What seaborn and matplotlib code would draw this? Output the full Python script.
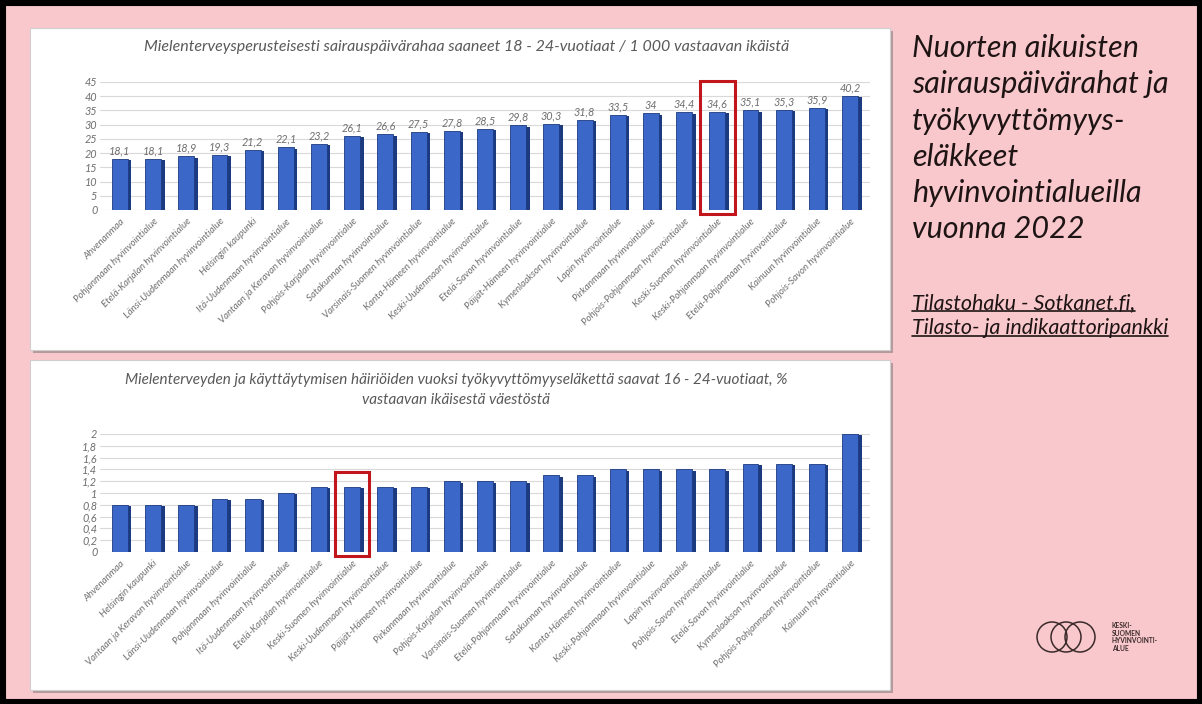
import numpy as np
import pandas as pd
import matplotlib
matplotlib.use("Agg")
import matplotlib.pyplot as plt
import matplotlib.patheffects as pe
from matplotlib.patches import Rectangle, Circle
from matplotlib.lines import Line2D
import seaborn as sns

# ----------------------------------------------------------------------
# Data
# ----------------------------------------------------------------------
top_regions = [
    "Ahvenanmaa", "Pohjanmaan hyvinvointialue", "Etelä-Karjalan hyvinvointialue",
    "Länsi-Uudenmaan hyvinvointialue", "Helsingin kaupunki",
    "Itä-Uudenmaan hyvinvointialue", "Vantaan ja Keravan hyvinvointialue",
    "Pohjois-Karjalan hyvinvointialue", "Satakunnan hyvinvointialue",
    "Varsinais-Suomen hyvinvointialue", "Kanta-Hämeen hyvinvointialue",
    "Keski-Uudenmaan hyvinvointialue", "Etelä-Savon hyvinvointialue",
    "Päijät-Hämeen hyvinvointialue", "Kymenlaakson hyvinvointialue",
    "Lapin hyvinvointialue", "Pirkanmaan hyvinvointialue",
    "Pohjois-Pohjanmaan hyvinvointialue", "Keski-Suomen hyvinvointialue",
    "Keski-Pohjanmaan hyvinvointialue", "Etelä-Pohjanmaan hyvinvointialue",
    "Kainuun hyvinvointialue", "Pohjois-Savon hyvinvointialue",
]
top_values = [18.1, 18.1, 18.9, 19.3, 21.2, 22.1, 23.2, 26.1, 26.6, 27.5, 27.8,
              28.5, 29.8, 30.3, 31.8, 33.5, 34.0, 34.4, 34.6, 35.1, 35.3, 35.9, 40.2]
top_title = "Mielenterveysperusteisesti sairauspäivärahaa saaneet 18 - 24-vuotiaat / 1 000 vastaavan ikäistä"

bottom_regions = [
    "Ahvenanmaa", "Helsingin kaupunki", "Vantaan ja Keravan hyvinvointialue",
    "Länsi-Uudenmaan hyvinvointialue", "Pohjanmaan hyvinvointialue",
    "Itä-Uudenmaan hyvinvointialue", "Etelä-Karjalan hyvinvointialue",
    "Keski-Suomen hyvinvointialue", "Keski-Uudenmaan hyvinvointialue",
    "Päijät-Hämeen hyvinvointialue", "Pirkanmaan hyvinvointialue",
    "Pohjois-Karjalan hyvinvointialue", "Varsinais-Suomen hyvinvointialue",
    "Etelä-Pohjanmaan hyvinvointialue", "Satakunnan hyvinvointialue",
    "Kanta-Hämeen hyvinvointialue", "Keski-Pohjanmaan hyvinvointialue",
    "Lapin hyvinvointialue", "Pohjois-Savon hyvinvointialue",
    "Etelä-Savon hyvinvointialue", "Kymenlaakson hyvinvointialue",
    "Pohjois-Pohjanmaan hyvinvointialue", "Kainuun hyvinvointialue",
]
bottom_values = [0.8, 0.8, 0.8, 0.9, 0.9, 1.0, 1.1, 1.1, 1.1, 1.1, 1.2, 1.2,
                 1.2, 1.3, 1.3, 1.4, 1.4, 1.4, 1.4, 1.5, 1.5, 1.5, 2.0]
bottom_title = ("Mielenterveyden ja käyttäytymisen häiriöiden vuoksi työkyvyttömyyseläkettä saavat 16 - 24-vuotiaat, %\n"
                "vastaavan ikäisestä väestöstä")

highlight = "Keski-Suomen hyvinvointialue"
side_title = ("Nuorten aikuisten\nsairauspäivärahat ja\ntyökyvyttömyys-\n"
              "eläkkeet\nhyvinvointialueilla\nvuonna 2022")
source_lines = ["Tilastohaku - Sotkanet.fi,", "Tilasto- ja indikaattoripankki"]
logo_text = "KESKI-\nSUOMEN\nHYVINVOINTI-\nALUE"

# ----------------------------------------------------------------------
# Style
# ----------------------------------------------------------------------
sns.set_theme(style="white")
plt.rcParams["font.family"] = ["Lato", "DejaVu Sans"]
PINK = "#f9c8cc"
BLUE = "#3b67c8"
DARK = "#1c3a80"
GREY = "#6e6e6e"
RED = "#c0161c"

W, H = 1202, 704
fig = plt.figure(figsize=(W / 100, H / 100), dpi=100, facecolor=PINK)


def fx(px):
    return px / W


def fy(py):
    return 1 - py / H


# white panels with a soft shadow (kept behind the axes)
for (x0, y0, x1, y1) in [(30, 28, 890, 350), (30, 360, 890, 690)]:
    fig.patches.append(Rectangle((fx(x0 + 3), fy(y1 + 3)), fx(x1 - x0), (y1 - y0) / H,
                                 transform=fig.transFigure, facecolor="#b59a9d",
                                 edgecolor="none", zorder=-3))
    fig.patches.append(Rectangle((fx(x0), fy(y1)), fx(x1 - x0), (y1 - y0) / H,
                                 transform=fig.transFigure, facecolor="white",
                                 edgecolor="#cfcfcf", lw=0.8, zorder=-2))

# black outer frame
fig.patches.append(Rectangle((0, 0), 1, 1, transform=fig.transFigure, fill=False,
                             edgecolor="black", lw=8, zorder=10))


def draw_chart(ax, regions, values, ylim, yticks, ytick_labels, box_top, labels=True):
    df = pd.DataFrame({"region": regions, "value": values})
    sns.barplot(data=df, x="region", y="value", ax=ax, color=BLUE, width=0.48,
                saturation=1, edgecolor=DARK, linewidth=0.6, zorder=3)
    for p in ax.patches:
        p.set_path_effects([pe.SimplePatchShadow(offset=(2.5, -1), shadow_rgbFace=DARK, alpha=1),
                            pe.Normal()])
    ax.set_ylim(*ylim)
    ax.set_xlim(-0.6, len(regions) - 0.4)
    ax.set_yticks(yticks)
    ax.set_yticklabels(ytick_labels, fontsize=7.8, color=GREY, style="italic")
    ax.set_xticks(range(len(regions)))
    ax.set_xticklabels(regions, rotation=45, ha="right", rotation_mode="anchor",
                       fontsize=7, color=GREY, style="italic")
    ax.tick_params(axis="x", length=0, pad=5)
    ax.tick_params(axis="y", length=0, pad=2)
    ax.set_xlabel("")
    ax.set_ylabel("")
    ax.grid(axis="y", color="#d9d9d9", lw=0.8, zorder=0)
    ax.set_facecolor("none")
    sns.despine(ax=ax, left=True, bottom=True)
    if labels:
        for i, v in enumerate(values):
            ax.text(i, v + ylim[1] * 0.02, f"{v:g}".replace(".", ","), ha="center",
                    va="bottom", fontsize=7.8, color=GREY, style="italic")
    i = regions.index(highlight)
    ax.add_patch(Rectangle((i - 0.52, -ylim[1] * 0.03), 1.04, box_top + ylim[1] * 0.03,
                           fill=False, edgecolor=RED, lw=2.2, clip_on=False, zorder=5))


ax1 = fig.add_axes([fx(100), fy(210), fx(770), (210 - 82) / H])
draw_chart(ax1, top_regions, top_values, (0, 45), range(0, 46, 5),
           [str(t) for t in range(0, 46, 5)], box_top=45.5)
fig.text(fx(467), fy(47), top_title, ha="center", va="center", fontsize=11.5,
         color="#595959", style="italic")

ax2 = fig.add_axes([fx(100), fy(552), fx(770), (552 - 434) / H])
bt = [round(0.2 * k, 1) for k in range(11)]
draw_chart(ax2, bottom_regions, bottom_values, (0, 2), bt,
           [f"{t:g}".replace(".", ",") for t in bt], box_top=1.36, labels=False)
fig.text(fx(456), fy(390), bottom_title, ha="center", va="center", fontsize=11,
         color="#595959", style="italic", linespacing=1.5)

# right side text
fig.text(fx(912), fy(34), side_title, ha="left", va="top", fontsize=22,
         color="#1e1414", style="italic", linespacing=1.36)
src_texts = []
for k, line in enumerate(source_lines):
    src_texts.append(fig.text(fx(912), fy(303 + k * 25), line, ha="left", va="center",
                              fontsize=15.5, color="#1e1414", style="italic"))
fig.canvas.draw()
r = fig.canvas.get_renderer()
for t in src_texts:
    bb = t.get_window_extent(r).transformed(fig.transFigure.inverted())
    fig.lines.append(Line2D([bb.x0, bb.x1], [bb.y0 + 0.003, bb.y0 + 0.003],
                            transform=fig.transFigure, color="#1e1414", lw=1.2))

# logo
lax = fig.add_axes([fx(1030), fy(656), fx(80), 38 / H])
lax.set_xlim(0, 80)
lax.set_ylim(0, 38)
lax.set_aspect("equal")
lax.axis("off")
for cx in [22, 36, 50]:
    lax.add_patch(Circle((cx, 19), 15, fill=False, edgecolor="#3a2a2a", lw=1.1))
fig.text(fx(1112), fy(637), logo_text, ha="left", va="center", fontsize=4.8,
         color="#3a2a2a", weight="bold", linespacing=1.1)

fig.savefig("out.png", dpi=100, facecolor=PINK)
